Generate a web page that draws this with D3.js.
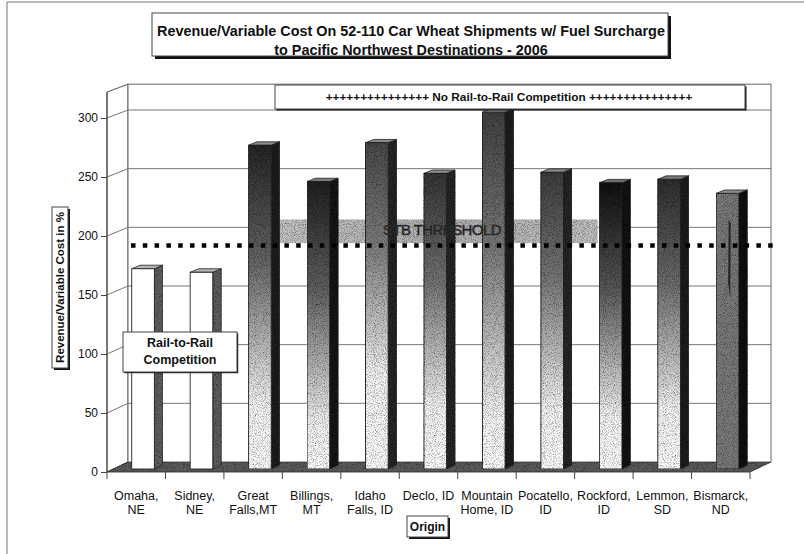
<!DOCTYPE html>
<html>
<head>
<meta charset="utf-8">
<script src="https://cdnjs.cloudflare.com/ajax/libs/d3/7.8.5/d3.min.js"></script>
<style>
  html, body { margin: 0; padding: 0; background: #fff; }
  svg { display: block; font-family: Arial, "Liberation Sans", sans-serif; }
</style>
</head>
<body>
<svg id="chart" width="804" height="554"></svg>
<script>
// ---------------- data ----------------
const categories = ["Omaha,\nNE", "Sidney,\nNE", "Great\nFalls,MT", "Billings,\nMT", "Idaho\nFalls, ID",
  "Declo, ID", "Mountain\nHome, ID", "Pocatello,\nID", "Rockford,\nID", "Lemmon,\nSD", "Bismarck,\nND"];
const values = [170, 167, 275, 244, 277, 251, 303, 252, 243, 246, 234];
const yTicks = [0, 50, 100, 150, 200, 250, 300];
const thresholdValue = 192;
const titleLines = ["Revenue/Variable Cost On 52-110 Car Wheat Shipments w/ Fuel Surcharge",
  "to Pacific Northwest Destinations - 2006"];
const yAxisTitle = "Revenue/Variable Cost in %";
const xAxisTitle = "Origin";
const noCompText = "+++++++++++++++ No Rail-to-Rail Competition +++++++++++++++";
const compLines = ["Rail-to-Rail", "Competition"];
const thresholdLabel = "STB THRESHOLD";

// ---------------- styles (not data) ----------------
const barStyles = [
  { top: "#ffffff", white: 0.0, side: "#5e5e5e", cap: "#b4b4b4" },
  { top: "#ffffff", white: 0.0, side: "#5e5e5e", cap: "#b4b4b4" },
  { top: "#262626", white: 0.8, side: "#1e1e1e", cap: "#8a8a8a" },
  { top: "#202020", white: 0.85, side: "#161616", cap: "#7a7a7a" },
  { top: "#4a4a4a", white: 0.72, side: "#262626", cap: "#8a8a8a" },
  { top: "#363636", white: 0.8, side: "#262626", cap: "#8a8a8a" },
  { top: "#424242", white: 0.85, side: "#1e1e1e", cap: "#8a8a8a" },
  { top: "#3e3e3e", white: 0.8, side: "#262626", cap: "#8a8a8a" },
  { top: "#101010", white: 0.82, side: "#121212", cap: "#707070" },
  { top: "#2e2e2e", white: 0.8, side: "#1e1e1e", cap: "#7a7a7a" },
  { top: "#7a7a7a", white: 2.0, side: "#111111", cap: "#8a8a8a" }
];

// ---------------- geometry ----------------
const svg = d3.select("#chart");
const DX = 21;                       // depth shift in x (front -> back)
const xF = d3.scaleBand().domain(categories).range([107, 750]).padding(0);
const bw = xF.bandwidth();
const yF = d3.scaleLinear().domain([0, 300]).range([472, 118]);   // front plane
const yB = d3.scaleLinear().domain([0, 300]).range([462, 110]);   // back wall
const wallMax = 322;
const px = (x, z) => x + DX * z;
const py = (v, z) => yF(v) * (1 - z) + yB(v) * z;

const defs = svg.append("defs");
const grain = defs.append("filter").attr("id", "grain").attr("x", 0).attr("y", 0).attr("width", 1).attr("height", 1);
grain.append("feTurbulence").attr("type", "fractalNoise").attr("baseFrequency", 1.1).attr("numOctaves", 1).attr("seed", 3).attr("result", "n");
grain.append("feColorMatrix").attr("in", "n").attr("type", "matrix")
  .attr("values", "0 0 0 0 0  0 0 0 0 0  0 0 0 0 0  0 0 0 -2.2 1.25").attr("result", "na");
grain.append("feComposite").attr("in", "na").attr("in2", "SourceGraphic").attr("operator", "in").attr("result", "nm");
grain.append("feComposite").attr("in", "nm").attr("in2", "SourceGraphic").attr("operator", "over");

// outer frame
svg.append("line").attr("x1", 7).attr("y1", 2).attr("x2", 804).attr("y2", 2).attr("stroke", "#777").attr("stroke-width", 1);
svg.append("line").attr("x1", 7).attr("y1", 2).attr("x2", 7).attr("y2", 554).attr("stroke", "#777").attr("stroke-width", 1);

// ---------------- walls ----------------
const x0 = xF.range()[0], x1 = xF.range()[1];
svg.append("polygon")
  .attr("points", [[px(x0, 0), yF(0)], [px(x0, 0), yF(wallMax)], [px(x0, 1), yB(wallMax)], [px(x0, 1), yB(0)]].map(p => p.join(",")).join(" "))
  .attr("fill", "#fff").attr("stroke", "#555").attr("stroke-width", 1);
svg.append("rect")
  .attr("x", px(x0, 1)).attr("y", yB(wallMax)).attr("width", x1 - x0).attr("height", yB(0) - yB(wallMax))
  .attr("fill", "#fff").attr("stroke", "#666").attr("stroke-width", 1);

const grid = svg.append("g");
yTicks.filter(t => t > 0).forEach(t => {
  grid.append("line").attr("x1", px(x0, 1)).attr("x2", px(x1, 1)).attr("y1", yB(t)).attr("y2", yB(t))
    .attr("stroke", "#777").attr("stroke-width", 1);
  grid.append("line").attr("x1", px(x0, 0)).attr("x2", px(x0, 1)).attr("y1", yF(t)).attr("y2", yB(t))
    .attr("stroke", "#777").attr("stroke-width", 1);
});

// STB threshold band (behind bars)
const bandX0 = xF(categories[2]) + bw * 0.95;
const bandX1 = px(xF(categories[8]), 1) + 2;
const bandGrad = defs.append("linearGradient").attr("id", "bandGrad").attr("x1", 0).attr("x2", 1).attr("y1", 0).attr("y2", 0);
bandGrad.append("stop").attr("offset", 0).attr("stop-color", "#c4c4c4");
bandGrad.append("stop").attr("offset", 0.5).attr("stop-color", "#b0b0b0");
bandGrad.append("stop").attr("offset", 1).attr("stop-color", "#c0c0c0");
svg.append("rect").attr("x", bandX0).attr("width", bandX1 - bandX0)
  .attr("y", yF(thresholdValue + 22)).attr("height", yF(thresholdValue + 2) - yF(thresholdValue + 22))
  .attr("fill", "url(#bandGrad)").attr("filter", "url(#grain)");

// floor
svg.append("polygon")
  .attr("points", [[px(x0, 0), yF(0)], [px(x1, 0), yF(0)], [px(x1, 1), yB(0)], [px(x0, 1), yB(0)]].map(p => p.join(",")).join(" "))
  .attr("fill", "#5c5c5c").attr("stroke", "#333").attr("stroke-width", 0.8).attr("filter", "url(#grain)");

// ---------------- bars ----------------
const z0 = 0.3, z1 = 0.7;
const bars = svg.append("g");
categories.forEach((c, i) => {
  const v = values[i];
  const st = barStyles[i];
  const bx0 = xF(c) + bw * 0.315;
  const bx1 = bx0 + bw * 0.387;
  const gid = "bg" + i;
  const g = defs.append("linearGradient").attr("id", gid).attr("gradientUnits", "userSpaceOnUse")
    .attr("x1", 0).attr("x2", 0).attr("y1", py(v, z0)).attr("y2", py(0, z0));
  if (st.white >= 1.5) {
    g.append("stop").attr("offset", 0).attr("stop-color", st.top);
    g.append("stop").attr("offset", 1).attr("stop-color", st.top);
  } else if (st.white <= 0) {
    g.append("stop").attr("offset", 0).attr("stop-color", "#fff");
    g.append("stop").attr("offset", 1).attr("stop-color", "#fff");
  } else {
    g.append("stop").attr("offset", 0).attr("stop-color", st.top);
    g.append("stop").attr("offset", st.white * 0.45).attr("stop-color", d3.interpolateRgb(st.top, "#fff")(0.3));
    g.append("stop").attr("offset", st.white).attr("stop-color", "#f6f6f6");
    g.append("stop").attr("offset", 1).attr("stop-color", "#ffffff");
  }
  const bar = bars.append("g");
  bar.append("polygon")
    .attr("points", [[px(bx1, z0), py(v, z0)], [px(bx1, z1), py(v, z1)], [px(bx1, z1), py(0, z1)], [px(bx1, z0), py(0, z0)]].map(p => p.join(",")).join(" "))
    .attr("fill", st.side).attr("stroke", "#222").attr("stroke-width", 0.8).attr("filter", "url(#grain)");
  bar.append("polygon")
    .attr("points", [[px(bx0, z0), py(v, z0)], [px(bx1, z0), py(v, z0)], [px(bx1, z1), py(v, z1)], [px(bx0, z1), py(v, z1)]].map(p => p.join(",")).join(" "))
    .attr("fill", st.cap).attr("stroke", "#222").attr("stroke-width", 0.8);
  bar.append("rect")
    .attr("x", px(bx0, z0)).attr("y", py(v, z0)).attr("width", bx1 - bx0).attr("height", py(0, z0) - py(v, z0))
    .attr("fill", "url(#" + gid + ")").attr("stroke", "#222").attr("stroke-width", 0.9)
    .attr("filter", st.white > 0 ? "url(#grain)" : null);
  if (st.white >= 1.5) {
    const sx = px(bx0, z0) + (bx1 - bx0) * 0.55;
    bar.append("path")
      .attr("d", `M${sx},${py(v, z0) + 26} L${sx + 2},${py(v, z0) + 30} L${sx + 1.5},${py(v, z0) + 105} L${sx - 0.5},${py(v, z0) + 90} Z`)
      .attr("fill", "#222");
  }
});

// ---------------- axes ----------------
svg.append("line").attr("x1", px(x0, 0)).attr("x2", px(x0, 0)).attr("y1", yF(wallMax)).attr("y2", yF(0))
  .attr("stroke", "#444").attr("stroke-width", 1);
const yAxis = d3.axisLeft(yF).tickValues(yTicks).tickSize(6).tickPadding(3).tickFormat(d3.format("d"));
const yg = svg.append("g").attr("transform", `translate(${px(x0, 0)},0)`).call(yAxis);
yg.select(".domain").remove();
yg.selectAll(".tick line").attr("stroke", "#444");
yg.selectAll(".tick text").attr("font-size", 12).attr("fill", "#111").attr("font-family", "Arial, 'Liberation Sans', sans-serif");

svg.append("line").attr("x1", x0).attr("x2", x1).attr("y1", yF(0)).attr("y2", yF(0)).attr("stroke", "#444");
d3.range(categories.length + 1).forEach(k => {
  const x = x0 + k * bw;
  svg.append("line").attr("x1", x).attr("x2", x).attr("y1", yF(0)).attr("y2", yF(0) + 7).attr("stroke", "#444");
});
const xAxis = d3.axisBottom(xF).tickSize(0).tickPadding(0).tickFormat("");
const xg = svg.append("g").attr("transform", `translate(0,${yF(0)})`).call(xAxis);
xg.select(".domain").remove();
xg.selectAll(".tick").each(function (d) {
  const t = d3.select(this).append("text").attr("fill", "#111").attr("font-size", 12.5)
    .attr("font-family", "Arial, 'Liberation Sans', sans-serif").attr("text-anchor", "middle");
  d.split("\n").forEach((line, li) => {
    t.append("tspan").attr("x", 0).attr("y", 28 + li * 14).text(line);
  });
});

// ---------------- threshold dotted line ----------------
svg.append("line").attr("x1", 131).attr("x2", 779).attr("y1", yF(thresholdValue)).attr("y2", yF(thresholdValue))
  .attr("stroke", "#000").attr("stroke-width", 4.5).attr("stroke-dasharray", "4.5,7.3");

svg.append("text").attr("x", 442).attr("y", yF(thresholdValue + 13)).attr("dy", "0.35em")
  .attr("text-anchor", "middle").attr("font-size", 15).attr("letter-spacing", -0.6)
  .attr("fill", "#1a1a1a").attr("stroke", "#333").attr("stroke-width", 0.5).text(thresholdLabel);

// ---------------- text boxes ----------------
function box(x, y, w, h, shadow) {
  if (shadow) svg.append("rect").attr("x", x + shadow).attr("y", y + shadow).attr("width", w).attr("height", h).attr("fill", "#111");
  svg.append("rect").attr("x", x).attr("y", y).attr("width", w).attr("height", h)
    .attr("fill", "#fff").attr("stroke", "#444").attr("stroke-width", 1);
}
box(152, 13, 516, 43, 3);
titleLines.forEach((l, i) => {
  svg.append("text").attr("x", 411).attr("y", 31 + i * 19).attr("dy", "0.35em").attr("text-anchor", "middle")
    .attr("font-size", 14.4).attr("font-weight", "bold").attr("fill", "#111").text(l);
});
box(275, 85, 470, 24, 1.5);
svg.append("text").attr("x", 509).attr("y", 97).attr("dy", "0.35em").attr("text-anchor", "middle")
  .attr("font-size", 11.8).attr("font-weight", "bold").attr("fill", "#111").text(noCompText);
box(123, 332, 114, 40, 1.2);
compLines.forEach((l, i) => {
  svg.append("text").attr("x", 180).attr("y", 343 + i * 17).attr("dy", "0.35em").attr("text-anchor", "middle")
    .attr("font-size", 12.5).attr("font-weight", "bold").attr("fill", "#111").text(l);
});
box(52, 207, 16, 161, 2);
svg.append("text").attr("transform", "translate(60,287.5) rotate(-90)").attr("dy", "0.35em").attr("text-anchor", "middle")
  .attr("font-size", 11.5).attr("font-weight", "bold").attr("fill", "#111").text(yAxisTitle);
box(407, 516, 41, 21, 2);
svg.append("text").attr("x", 427.5).attr("y", 526.5).attr("dy", "0.35em").attr("text-anchor", "middle")
  .attr("font-size", 12).attr("font-weight", "bold").attr("fill", "#111").text(xAxisTitle);
</script>
</body>
</html>
